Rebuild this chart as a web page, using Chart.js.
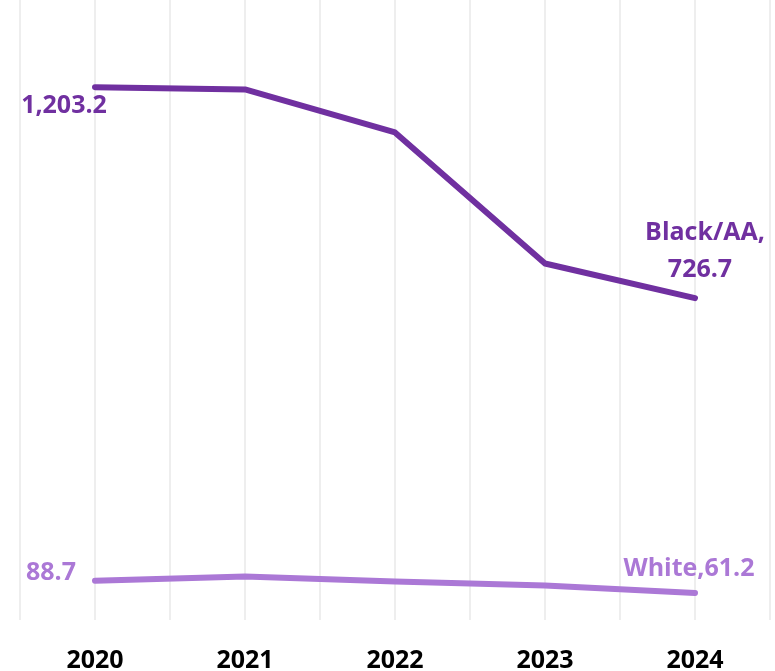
<!DOCTYPE html>
<html>
<head>
<meta charset="utf-8">
<script src="https://cdn.jsdelivr.net/npm/chart.js@4/dist/chart.umd.min.js"></script>
<style>
  html, body { margin: 0; padding: 0; background: #ffffff; }
  #wrap { width: 775px; height: 671px; }
</style>
</head>
<body>
<div id="wrap"><canvas id="myChart"></canvas></div>
<script>
let years = [2020, 2021, 2022, 2023, 2024];
let blackValues = [1203.2, 1198, 1101, 805, 726.7];
let whiteValues = [88.7, 98, 87, 78, 61.2];

let blackColor = "#7030A0";
let whiteColor = "#AB78D6";

// labels: [pointIndex, text lines, dx, dy]
let blackLabels = [[0, ["1,203.2"], -31, 19], [4, ["Black/AA,", "726.7"], 10, -47]];
let whiteLabels = [[0, ["88.7"], -44, -8], [4, ["White,61.2"], -6, -24]];

function toPoints(vals) {
    return vals.map((v, i) => ({ x: years[i], y: v }));
}

let labelPlugin = {
    id: "pointLabels",
    afterDatasetsDraw(chart) {
        let ctx = chart.ctx;
        let sets = [blackLabels, whiteLabels];
        ctx.save();
        ctx.font = "bold 25px 'Open Sans'";
        ctx.textAlign = "center";
        ctx.textBaseline = "middle";
        sets.forEach((labels, d) => {
            let meta = chart.getDatasetMeta(d);
            ctx.fillStyle = chart.data.datasets[d].borderColor;
            labels.forEach(l => {
                let pt = meta.data[l[0]];
                let lines = l[1];
                lines.forEach((txt, k) => {
                    let y = pt.y + l[3] + (k - (lines.length - 1) / 2) * 37;
                    ctx.fillText(txt, pt.x + l[2] + (k === 1 ? -5 : 0), y);
                });
            });
        });
        ctx.restore();
    }
};

let config = {
    type: "line",
    data: {
        datasets: [
            {
                label: "Black/AA",
                data: toPoints(blackValues),
                borderColor: blackColor,
                borderWidth: 6,
                pointRadius: 0,
                fill: false,
                tension: 0,
                borderCapStyle: "round",
                borderJoinStyle: "round"
            },
            {
                label: "White",
                data: toPoints(whiteValues),
                borderColor: whiteColor,
                borderWidth: 6,
                pointRadius: 0,
                fill: false,
                tension: 0,
                borderCapStyle: "round",
                borderJoinStyle: "round"
            }
        ]
    },
    options: {
        responsive: true,
        maintainAspectRatio: false,
        animation: false,
        layout: { padding: { left: 20, right: 5, top: 0, bottom: 0 } },
        plugins: {
            legend: { display: false },
            tooltip: { enabled: false }
        },
        scales: {
            x: {
                type: "linear",
                min: 2019.5,
                max: 2024.5,
                border: { display: false },
                grid: { color: "#EEEEEE", lineWidth: 2, drawTicks: false },
                ticks: {
                    stepSize: 0.5,
                    padding: 26,
                    color: "#000000",
                    font: { family: "'Open Sans'", size: 25, weight: "bold" },
                    callback: v => Number.isInteger(v) ? String(v) : ""
                },
                afterFit: scale => {
                    scale.height = 51;
                    scale.paddingLeft = 0;
                    scale.paddingRight = 0;
                }
            },
            y: {
                display: false,
                min: 0,
                max: 1400
            }
        }
    },
    plugins: [labelPlugin]
};

let ctx = document.getElementById("myChart").getContext("2d");
let myChart = new Chart(ctx, config);
</script>
</body>
</html>
